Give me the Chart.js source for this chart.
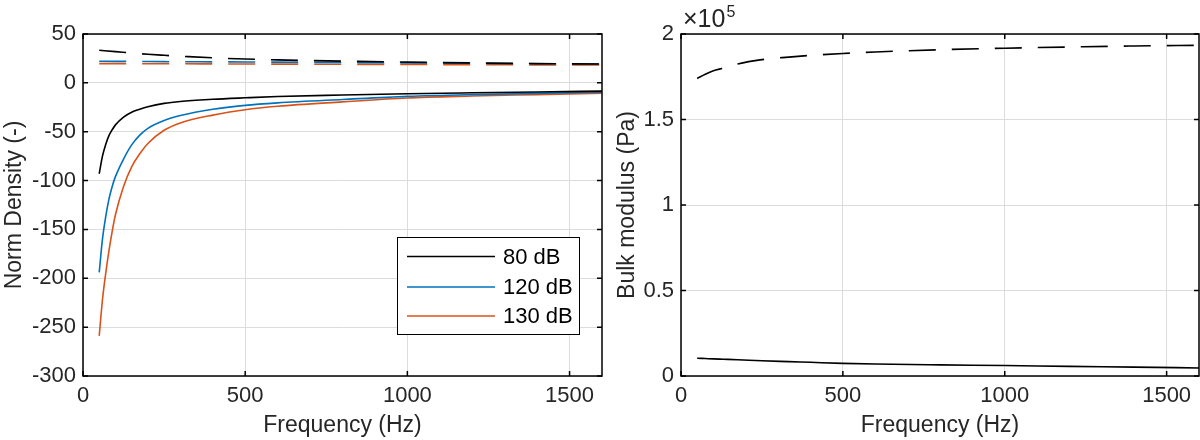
<!DOCTYPE html>
<html>
<head>
<meta charset="utf-8">
<script src="https://cdn.jsdelivr.net/npm/chart.js@4.4.1/dist/chart.umd.min.js"></script>
<style>
  html, body { margin: 0; padding: 0; background: #fff; }
  #wrap { position: relative; width: 1200px; height: 440px; overflow: hidden; }
  canvas { position: absolute; top: 0; }
  #leftChart { left: 0; }
  #rightChart { left: 600px; }
</style>
</head>
<body>
<div id="wrap">
  <canvas id="leftChart" width="620" height="440"></canvas>
  <canvas id="rightChart" width="600" height="440"></canvas>
</div>
<script>
// frequencies (Hz) for the solid density curves
const freqs = [50, 60, 70, 80, 90, 100, 125, 150, 175, 200, 250, 300, 400, 500, 600, 800, 1000, 1200, 1400, 1600];
const density80 = [-93, -75, -63, -54, -48, -43, -35, -30, -27, -24.5, -21, -19, -16.8, -15.3, -14, -12.5, -11.2, -10.2, -9.3, -8.5];
const density120 = [-194, -160, -137, -119, -106, -96, -78, -63.5, -53.5, -46.5, -38.5, -33.5, -27, -23, -20.5, -17, -13.8, -12, -10.8, -9.5];
const density130 = [-259, -222, -195, -172, -152, -135, -106, -86, -72.5, -62, -48.5, -41, -33, -27.5, -24, -19.5, -15.5, -13.5, -12, -10.5];

// dashed density curves
const dashFreqs = [50, 100, 150, 200, 250, 300, 400, 500, 600, 800, 1000, 1200, 1400, 1600];
const densityDash80 = [33.4, 32, 30.5, 29.2, 28.2, 27.3, 25.6, 24.4, 23.5, 22.2, 21.2, 20.4, 19.7, 19.2];
const densityDash120 = [22.1, 22, 21.9, 21.8, 21.7, 21.6, 21.5, 21.4, 21.2, 20.8, 20.4, 20, 19.6, 19.3];
const densityDash130 = [19.7, 19.7, 19.6, 19.6, 19.5, 19.5, 19.4, 19.3, 19.2, 19, 18.8, 18.6, 18.4, 18.2];

// bulk modulus (Pa)
const bulkFreqs = [50, 75, 100, 130, 175, 250, 333, 400, 500, 600, 800, 1000, 1200, 1400, 1600];
const bulkDash = [174000, 176500, 178500, 180000, 182500, 185000, 186500, 187500, 188600, 189500, 190800, 191700, 192400, 193000, 193400];
const bulkSolid = [10400, 10200, 10000, 9800, 9500, 8900, 8400, 8000, 7400, 7000, 6500, 6100, 5600, 5200, 4700];

const xTicks = [0, 500, 1000, 1500];
const densityTicks = [-300, -250, -200, -150, -100, -50, 0, 50];
const bulkTicks = [0, 50000, 100000, 150000, 200000];
const legendLabels = ['80 dB', '120 dB', '130 dB'];

const BLACK = '#000000';
const BLUE = '#0072BD';
const RED = '#D95319';
const TEXT = '#262626';
const FONT = "'Liberation Sans', Arial, Helvetica, sans-serif";

function pts(xs, ys) {
  return xs.map((x, i) => ({ x: x, y: ys[i] }));
}

function line(label, xs, ys, color, dashed) {
  return {
    label: label,
    data: pts(xs, ys),
    borderColor: color,
    borderWidth: 1.6,
    borderDash: dashed ? [27, 16] : [],
    borderCapStyle: 'butt',
    pointRadius: 0,
    fill: false,
    cubicInterpolationMode: 'monotone'
  };
}

// box round the plot and inward tick marks on all four sides
const framePlugin = {
  id: 'frame',
  afterDraw(chart) {
    const { ctx, chartArea: a, scales } = chart;
    ctx.save();
    ctx.strokeStyle = '#000';
    ctx.lineWidth = 1.5;
    ctx.beginPath();
    scales.x.ticks.forEach(t => {
      const px = scales.x.getPixelForValue(t.value);
      ctx.moveTo(px, a.bottom); ctx.lineTo(px, a.bottom - 5);
      ctx.moveTo(px, a.top); ctx.lineTo(px, a.top + 5);
    });
    scales.y.ticks.forEach(t => {
      const py = scales.y.getPixelForValue(t.value);
      ctx.moveTo(a.left, py); ctx.lineTo(a.left + 5, py);
      ctx.moveTo(a.right, py); ctx.lineTo(a.right - 5, py);
    });
    ctx.stroke();
    ctx.strokeRect(a.left, a.top, a.right - a.left, a.bottom - a.top);
    ctx.restore();
  }
};

// legend box inside the left plot (solid lines only)
const legendPlugin = {
  id: 'boxLegend',
  afterDraw(chart) {
    const { ctx } = chart;
    const box = { x: 397.5, y: 237.5, w: 182, h: 97 };
    ctx.save();
    ctx.fillStyle = '#fff';
    ctx.fillRect(box.x, box.y, box.w, box.h);
    ctx.strokeStyle = '#000';
    ctx.lineWidth = 1;
    ctx.strokeRect(box.x, box.y, box.w, box.h);
    ctx.font = '22px ' + FONT;
    ctx.textBaseline = 'middle';
    ctx.fillStyle = '#000';
    const rows = [256.5, 287, 316];
    legendLabels.forEach((lab, i) => {
      const ds = chart.data.datasets[i];
      ctx.strokeStyle = ds.borderColor;
      ctx.lineWidth = 1.6;
      ctx.beginPath();
      ctx.moveTo(407, rows[i]);
      ctx.lineTo(495, rows[i]);
      ctx.stroke();
      ctx.fillText(lab, 503, rows[i] + 1);
    });
    ctx.restore();
  }
};

// x10^5 exponent label on the right plot
const exponentPlugin = {
  id: 'exponent',
  afterDraw(chart) {
    const { ctx } = chart;
    ctx.save();
    ctx.fillStyle = TEXT;
    ctx.textBaseline = 'alphabetic';
    ctx.font = '25px ' + FONT;
    const base = '\u00d710';
    ctx.fillText(base, 83, 27);
    const w = ctx.measureText(base).width;
    ctx.font = '16px ' + FONT;
    ctx.fillText('5', 83 + w + 1, 17);
    ctx.restore();
  }
};

function makeOptions(cfg) {
  return {
    responsive: false,
    animation: false,
    devicePixelRatio: 1,
    layout: { padding: { top: 34, right: cfg.padRight, left: 0, bottom: 0 } },
    plugins: { legend: { display: false }, tooltip: { enabled: false } },
    scales: {
      x: {
        type: 'linear',
        min: 0,
        max: 1600,
        afterBuildTicks: s => { s.ticks = xTicks.map(v => ({ value: v })); },
        afterFit: s => { s.height = 64; },
        grid: { color: '#dcdcdc', lineWidth: 1, drawTicks: false },
        border: { display: false },
        ticks: {
          color: TEXT,
          font: { family: FONT, size: 22 },
          padding: 7,
          maxRotation: 0,
          callback: v => String(v)
        },
        title: {
          display: true,
          text: 'Frequency (Hz)',
          color: TEXT,
          font: { family: FONT, size: 23 },
          padding: { top: 0, bottom: 1 }
        }
      },
      y: {
        type: 'linear',
        min: cfg.yMin,
        max: cfg.yMax,
        afterBuildTicks: s => { s.ticks = cfg.yTicks.map(v => ({ value: v })); },
        afterFit: s => { s.width = cfg.yWidth; },
        grid: { color: '#dcdcdc', lineWidth: 1, drawTicks: false },
        border: { display: false },
        ticks: {
          color: TEXT,
          font: { family: FONT, size: 22 },
          padding: 7,
          callback: cfg.yFormat
        },
        title: {
          display: true,
          text: cfg.yTitle,
          color: TEXT,
          font: { family: FONT, size: 23 },
          padding: { top: cfg.yTitlePad, bottom: 0 }
        }
      }
    }
  };
}

new Chart(document.getElementById('leftChart'), {
  type: 'line',
  data: {
    datasets: [
      line('80 dB', freqs, density80, BLACK, false),
      line('120 dB', freqs, density120, BLUE, false),
      line('130 dB', freqs, density130, RED, false),
      line('80 dB dashed', dashFreqs, densityDash80, BLACK, true),
      line('120 dB dashed', dashFreqs, densityDash120, BLUE, true),
      line('130 dB dashed', dashFreqs, densityDash130, RED, true)
    ]
  },
  options: makeOptions({
    padRight: 18,
    yMin: -300,
    yMax: 50,
    yTicks: densityTicks,
    yWidth: 83,
    yTitle: 'Norm Density (-)',
    yTitlePad: 1,
    yFormat: v => String(v)
  }),
  plugins: [framePlugin, legendPlugin]
});

new Chart(document.getElementById('rightChart'), {
  type: 'line',
  data: {
    datasets: [
      line('Bulk dashed', bulkFreqs, bulkDash, BLACK, true),
      line('Bulk solid', bulkFreqs, bulkSolid, BLACK, false)
    ]
  },
  options: makeOptions({
    padRight: 1,
    yMin: 0,
    yMax: 200000,
    yTicks: bulkTicks,
    yWidth: 81,
    yTitle: 'Bulk modulus (Pa)',
    yTitlePad: 14,
    yFormat: v => String(v / 100000)
  }),
  plugins: [framePlugin, exponentPlugin]
});
</script>
</body>
</html>
